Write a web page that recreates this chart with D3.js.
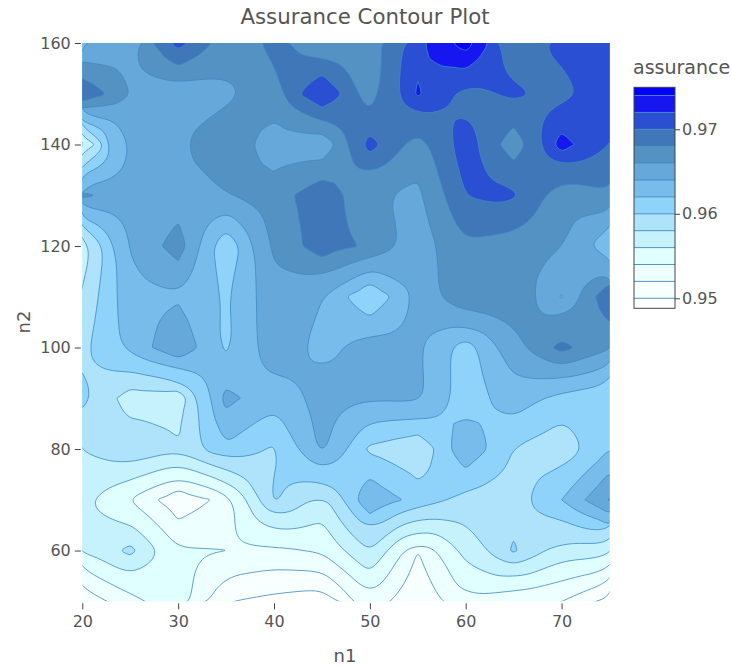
<!DOCTYPE html>
<html>
<head>
<meta charset="utf-8">
<script src="https://cdn.jsdelivr.net/npm/d3@7"></script>
<style>
html,body{margin:0;padding:0;background:#fff}
text{font-family:"DejaVu Sans",Verdana,sans-serif;fill:#555}
</style>
</head>
<body>
<svg id="chart" width="731" height="666"></svg>
<script>
const n1Values = [20,25,30,35,40,45,50,55,60,65,70,75];
const n2Values = [160,150,140,130,120,110,100,90,80,70,60,50];
const row160 = [.9636,.9655,.9706,.9667,.9685,.9665,.9669,.9714,.9748,.9684,.9707,.9712];
const row150 = [.9698,.9658,.9645,.9655,.9674,.9719,.9668,.9722,.9691,.9705,.9692,.9718];
const row140 = [.9558,.9642,.9659,.9675,.965,.9646,.9706,.967,.9712,.9668,.9727,.97];
const row130 = [.9664,.9646,.9648,.9659,.9669,.9694,.9662,.9655,.97005,.9708,.9665,.9678];
const row120 = [.9567,.9641,.9669,.9603,.9664,.969,.9676,.9649,.9677,.967,.9661,.9623];
const row110 = [.9583,.9634,.9637,.9619,.9652,.9641,.9603,.9646,.9677,.9673,.9639,.9696];
const row100 = [.9596,.9626,.9656,.9613,.9655,.9633,.965,.9643,.9609,.9653,.9685,.9662];
const row90  = [.9604,.9571,.9569,.9645,.9628,.9648,.9641,.9645,.9609,.9631,.9613,.9603];
const row80  = [.9581,.9595,.9584,.9617,.9596,.9645,.9597,.9583,.9635,.9599,.9586,.9618];
const row70  = [.9566,.9539,.9507,.9527,.9604,.9572,.9635,.9612,.9593,.9591,.962,.9661];
const row60  = [.95602,.9584,.9542,.95402,.9535,.9543,.958,.95195,.9567,.9602,.957,.9571];
const row50  = [.9506,.9533,.9555,.9501,.9494,.9487,.9534,.9503,.9538,.9525,.95201,.9493];
const zRows = [row160,row150,row140,row130,row120,row110,row100,row90,row80,row70,row60,row50];

const levels = [.95,.952,.954,.956,.958,.96,.962,.964,.966,.968,.97,.972,.974];
const bandColors = ["#ffffff","#f8ffff","#eeffff","#e0ffff","#c6f2fe","#aee3fb","#90d3fa","#78bcec","#66a8da","#5592c4","#3f77b8","#2b4fd2","#1616f0","#0000ff"];
const colorTicks = [.95,.96,.97];
const xTicks = [20,30,40,50,60,70];
const yTicks = [60,80,100,120,140,160];

const svg = d3.select("#chart");
const L=82.3,R=609.5,T=43,B=601.3;
const x = d3.scaleLinear().domain([20,75]).range([L,R]);
const y = d3.scaleLinear().domain([50,160]).range([B,T]);

const nx=n1Values.length, ny=n2Values.length;
// Contour raster: the read grid resampled bilinearly within each cell, so saddles resolve naturally
const K=4, mx=K*(nx-1)+1, my=K*(ny-1)+1, raster=new Array(mx*my);
for(let r=0;r<my;r++)for(let c=0;c<mx;c++){
  const c0=Math.min(Math.floor(c/K),nx-2), r0=Math.min(Math.floor(r/K),ny-2);
  const u=c/K-c0, v=r/K-r0;
  raster[r*mx+c]=zRows[r0][c0]*(1-u)*(1-v)+zRows[r0][c0+1]*u*(1-v)+zRows[r0+1][c0]*(1-u)*v+zRows[r0+1][c0+1]*u*v;
}
const contours = d3.contours().size([mx,my]).smooth(true).thresholds(levels)(raster);

const gx = c => x(n1Values[0] + (c-.5)/K*(n1Values[1]-n1Values[0]));
const gy = r => y(n2Values[0] + (r-.5)/K*(n2Values[1]-n2Values[0]));
const lineSmooth = d3.line().x(p=>gx(p[0])).y(p=>gy(p[1])).curve(d3.curveBasisClosed);
const lineFine = d3.line().x(p=>gx(p[0])).y(p=>gy(p[1])).curve(d3.curveCatmullRomClosed.alpha(0.5));
function ringPath(ring){
  const pts=ring.slice(0,-1);
  if(pts.length<24) return lineFine(pts);
  return lineSmooth(pts.filter((p,i)=>i%2===0));
}

svg.append("defs").append("clipPath").attr("id","plotClip").append("rect")
  .attr("x",L).attr("y",T).attr("width",R-L).attr("height",B-T);
const plot = svg.append("g").attr("clip-path","url(#plotClip)");
plot.append("rect").attr("x",L).attr("y",T).attr("width",R-L).attr("height",B-T).attr("fill",bandColors[0]);

const pathOf = mp => mp.coordinates.map(poly=>poly.map(ringPath).join("")).join("");
plot.selectAll("path.band").data(contours).join("path").attr("class","band")
  .attr("d",pathOf)
  .attr("fill",(d,i)=>bandColors[i+1]).attr("fill-rule","evenodd")
  .attr("stroke","#3f8ac2").attr("stroke-width",0.9).attr("stroke-opacity",0.9);

const xAxis = d3.axisBottom(x).tickValues(xTicks).tickSize(6).tickPadding(6);
const yAxis = d3.axisLeft(y).tickValues(yTicks).tickSize(6).tickPadding(4);
const gX = svg.append("g").attr("transform",`translate(0,${B+2})`).call(xAxis);
const gY = svg.append("g").attr("transform",`translate(${L-1.5},0)`).call(yAxis);
[gX,gY].forEach(g=>{
  g.select(".domain").remove();
  g.selectAll("line").attr("stroke","#444");
  g.selectAll("text").style("font-size","16px").style("font-family",'"DejaVu Sans"').attr("fill","#555");
});

svg.append("text").attr("x",365).attr("y",24).attr("text-anchor","middle").style("font-size","21.3px").text("Assurance Contour Plot");
svg.append("text").attr("x",345).attr("y",662).attr("text-anchor","middle").style("font-size","18px").text("n1");
svg.append("text").attr("transform","translate(30,322) rotate(-90)").attr("text-anchor","middle").style("font-size","18px").text("n2");

// colour bar
const cbX=634, cbW=41, cbTop=87.3, cbBot=308.3;
const cy = d3.scaleLinear().domain([.95,.97]).range([298.3,129.3]);
const edges = [cy.invert(cbBot),...levels,cy.invert(cbTop)];
const cb = svg.append("g");
cb.selectAll("rect.b").data(bandColors).join("rect").attr("class","b")
  .attr("x",cbX).attr("width",cbW)
  .attr("y",(d,i)=>cy(edges[i+1])).attr("height",(d,i)=>cy(edges[i])-cy(edges[i+1]))
  .attr("fill",d=>d);
cb.selectAll("line.l").data(levels).join("line").attr("class","l")
  .attr("x1",cbX).attr("x2",cbX+cbW).attr("y1",d=>cy(d)).attr("y2",d=>cy(d))
  .attr("stroke","#3f8ac2").attr("stroke-width",0.9);
cb.append("rect").attr("x",cbX).attr("y",cbTop).attr("width",cbW).attr("height",cbBot-cbTop)
  .attr("fill","none").attr("stroke","#444").attr("stroke-width",1);
const cAxis = d3.axisRight(cy).tickValues(colorTicks).tickFormat(d3.format(".2f")).tickSize(5).tickPadding(2);
const gC = svg.append("g").attr("transform",`translate(${cbX+cbW},0)`).call(cAxis);
gC.select(".domain").remove();
gC.selectAll("line").attr("stroke","#444");
gC.selectAll("text").style("font-size","16px").style("font-family",'"DejaVu Sans"').attr("fill","#555");
svg.append("text").attr("x",633).attr("y",74).style("font-size","19px").text("assurance");
</script>
</body>
</html>
